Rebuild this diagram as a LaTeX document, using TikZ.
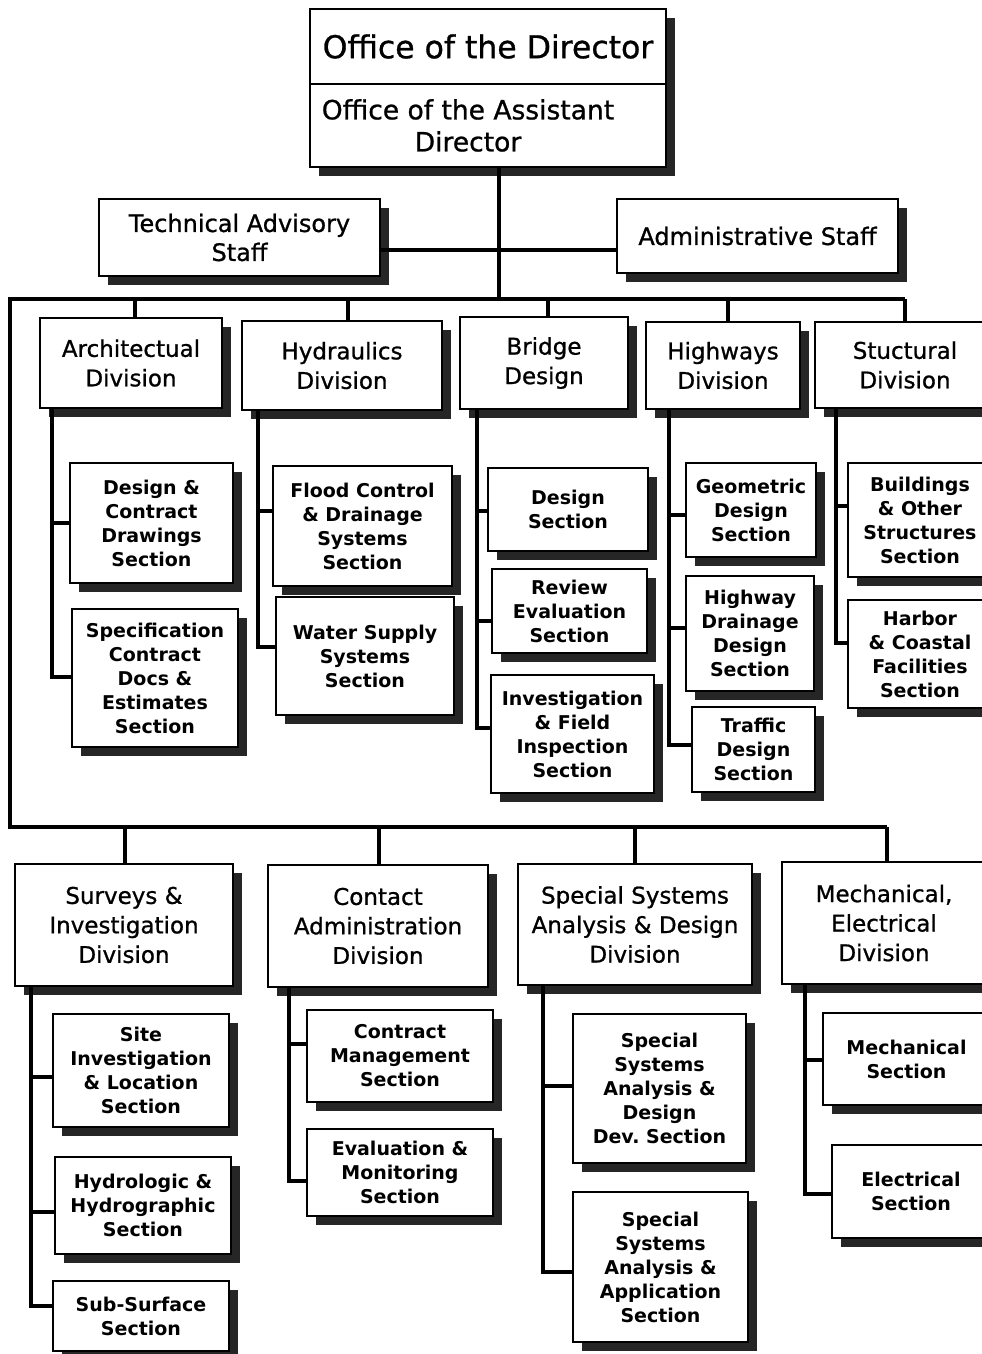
\documentclass[tikz,border=0pt]{standalone}
\usepackage{fontspec}
\setmainfont{DejaVu Sans}
\newfontfamily\heavyfont{DejaVu Sans}[FakeBold=0.9]
\usetikzlibrary{shadows}

% box with corners (x1,y1)-(x2,y2), y measured downwards
\newcommand\orgbox[7]{%
  \node[#6, minimum width={(#4)-(#2)}, minimum height={(#5)-(#3)}]
    (#1) at ({((#2)+(#4))/2},{((#3)+(#5))/2}) {#7};}
% branch from a division trunk at x=#2 to a section box
\newcommand\branch[4]{%
  \draw[conn] (#1.south -| #2,0) |- ([yshift=#4]#3.west);}

\tikzset{
  box/.style={draw, line width=1.8pt, fill=white, inner sep=2pt, align=center,
    drop shadow={shadow xshift=9pt, shadow yshift=-9pt, fill=black!85, opacity=1}},
  divbox/.style={box, font=\heavyfont\fontsize{23}{29.5}\selectfont},
  secbox/.style={box, font=\bfseries\fontsize{19}{24}\selectfont},
  staffbox/.style={box, font=\heavyfont\fontsize{24}{29}\selectfont},
  conn/.style={line width=3.5pt, line join=miter},
}

\begin{document}
\begin{tikzpicture}[x=1pt, y=-1pt]
\useasboundingbox (0,0) rectangle (982,1354);
\clip (0,0) rectangle (982,1354);

% ---------- head ----------
\orgbox{dir}{310}{9}{666}{84}{box, font=\heavyfont\fontsize{31.5}{36}\selectfont}{Office of the Director}
\orgbox{adir}{310}{84}{666}{167}{box, font=\heavyfont\fontsize{26.5}{32}\selectfont}{Office of the Assistant\hspace*{40pt}\\Director\hspace*{40pt}}

\orgbox{tas}{99}{199}{380}{276}{staffbox}{Technical Advisory\\Staff}
\orgbox{adm}{617}{199}{898}{273}{staffbox}{Administrative Staff}

% ---------- first row of divisions ----------
\orgbox{arch}{40}{318}{222}{408}{divbox}{Architectual\\Division}
\orgbox{hyd}{242}{321}{442}{410}{divbox}{Hydraulics\\Division}
\orgbox{bri}{460}{317}{628}{409}{divbox}{Bridge\\Design}
\orgbox{hwy}{646}{322}{800}{409}{divbox}{Highways\\Division}
\orgbox{str}{815}{322}{995}{408}{divbox}{Stuctural\\Division}

\orgbox{ds1}{70}{463}{233}{583}{secbox}{Design \&\\Contract\\Drawings\\Section}
\orgbox{ds2}{72}{609}{238}{747}{secbox}{Specification\\Contract\\Docs \&\\Estimates\\Section}
\orgbox{hs1}{273}{466}{452}{586}{secbox}{Flood Control\\\& Drainage\\Systems\\Section}
\orgbox{hs2}{276}{597}{454}{715}{secbox}{Water Supply\\Systems\\Section}
\orgbox{bs1}{488}{468}{648}{551}{secbox}{Design\\Section}
\orgbox{bs2}{492}{569}{647}{653}{secbox}{Review\\Evaluation\\Section}
\orgbox{bs3}{491}{675}{654}{793}{secbox}{Investigation\\\& Field\\Inspection\\Section}
\orgbox{ws1}{686}{463}{816}{557}{secbox}{Geometric\\Design\\Section}
\orgbox{ws2}{686}{576}{814}{691}{secbox}{Highway\\Drainage\\Design\\Section}
\orgbox{ws3}{692}{707}{815}{792}{secbox}{Traffic\\Design\\Section}
\orgbox{ss1}{848}{463}{992}{577}{secbox}{Buildings\\\& Other\\Structures\\Section}
\orgbox{ss2}{848}{600}{992}{708}{secbox}{Harbor\\\& Coastal\\Facilities\\Section}

% ---------- second row of divisions ----------
\orgbox{sur}{15}{864}{233}{986}{divbox}{Surveys \&\\Investigation\\Division}
\orgbox{con}{268}{865}{488}{987}{divbox}{Contact\\Administration\\Division}
\orgbox{spd}{518}{864}{752}{985}{divbox}{Special Systems\\Analysis \& Design\\Division}
\orgbox{mec}{782}{862}{986}{984}{divbox}{Mechanical,\\Electrical\\Division}

\orgbox{su1}{53}{1014}{229}{1127}{secbox}{Site\\Investigation\\\& Location\\Section}
\orgbox{su2}{55}{1157}{231}{1254}{secbox}{Hydrologic \&\\Hydrographic\\Section}
\orgbox{su3}{53}{1281}{229}{1351}{secbox}{Sub-Surface\\Section}
\orgbox{co1}{307}{1010}{493}{1102}{secbox}{Contract\\Management\\Section}
\orgbox{co2}{307}{1129}{493}{1216}{secbox}{Evaluation \&\\Monitoring\\Section}
\orgbox{sp1}{573}{1014}{746}{1163}{secbox}{Special\\Systems\\Analysis \&\\Design\\Dev.\ Section}
\orgbox{sp2}{573}{1192}{748}{1342}{secbox}{Special\\Systems\\Analysis \&\\Application\\Section}
\orgbox{me1}{823}{1013}{990}{1105}{secbox}{Mechanical\\Section}
\orgbox{me2}{832}{1145}{990}{1238}{secbox}{Electrical\\Section}

% ---------- connectors ----------
\coordinate (hub) at (499,299);
\coordinate (busTL) at (10,299);
\coordinate (busTR) at (905,299);
\coordinate (busBL) at (10,827);
\coordinate (busBR) at (887,827);

\draw[conn] (adir.south -| hub) -- (hub);
\draw[conn] ([yshift=-12.5pt]tas.east) -- ([yshift=-12.5pt]tas.east -| adm.west);
\draw[conn] (busTR) -- (busTL) -- (busBL) -- (busBR);

% drops from the upper bus
\draw[conn] (busTL -| 135,0) -- (arch.north -| 135,0);
\draw[conn] (busTL -| 348,0) -- (hyd.north -| 348,0);
\draw[conn] (busTL -| 548,0) -- (bri.north -| 548,0);
\draw[conn] (busTL -| 728,0) -- (hwy.north -| 728,0);
\draw[conn] (busTR) -- (str.north -| busTR);

% drops from the lower bus
\draw[conn] (busBL -| 125,0) -- (sur.north -| 125,0);
\draw[conn] (busBL -| 379,0) -- (con.north -| 379,0);
\draw[conn] (busBL -| 635,0) -- (spd.north -| 635,0);
\draw[conn] (busBR) -- (mec.north -| busBR);

% section branches
\branch{arch}{52}{ds1}{0pt}
\branch{arch}{52}{ds2}{1pt}
\branch{hyd}{258}{hs1}{15pt}
\branch{hyd}{258}{hs2}{9pt}
\branch{bri}{477}{bs1}{-1.5pt}
\branch{bri}{477}{bs2}{-10pt}
\branch{bri}{477}{bs3}{6pt}
\branch{hwy}{669}{ws1}{-5pt}
\branch{hwy}{669}{ws2}{5.5pt}
\branch{hwy}{669}{ws3}{4.5pt}
\branch{str}{836}{ss1}{14pt}
\branch{str}{836}{ss2}{11pt}

\branch{sur}{31}{su1}{-6.5pt}
\branch{sur}{31}{su2}{-6.5pt}
\branch{sur}{31}{su3}{10pt}
\branch{con}{289}{co1}{12pt}
\branch{con}{289}{co2}{-8.5pt}
\branch{spd}{543}{sp1}{2.5pt}
\branch{spd}{543}{sp2}{-5pt}
\branch{mec}{805}{me1}{-1pt}
\branch{mec}{805}{me2}{-2.5pt}
\end{tikzpicture}
\end{document}
